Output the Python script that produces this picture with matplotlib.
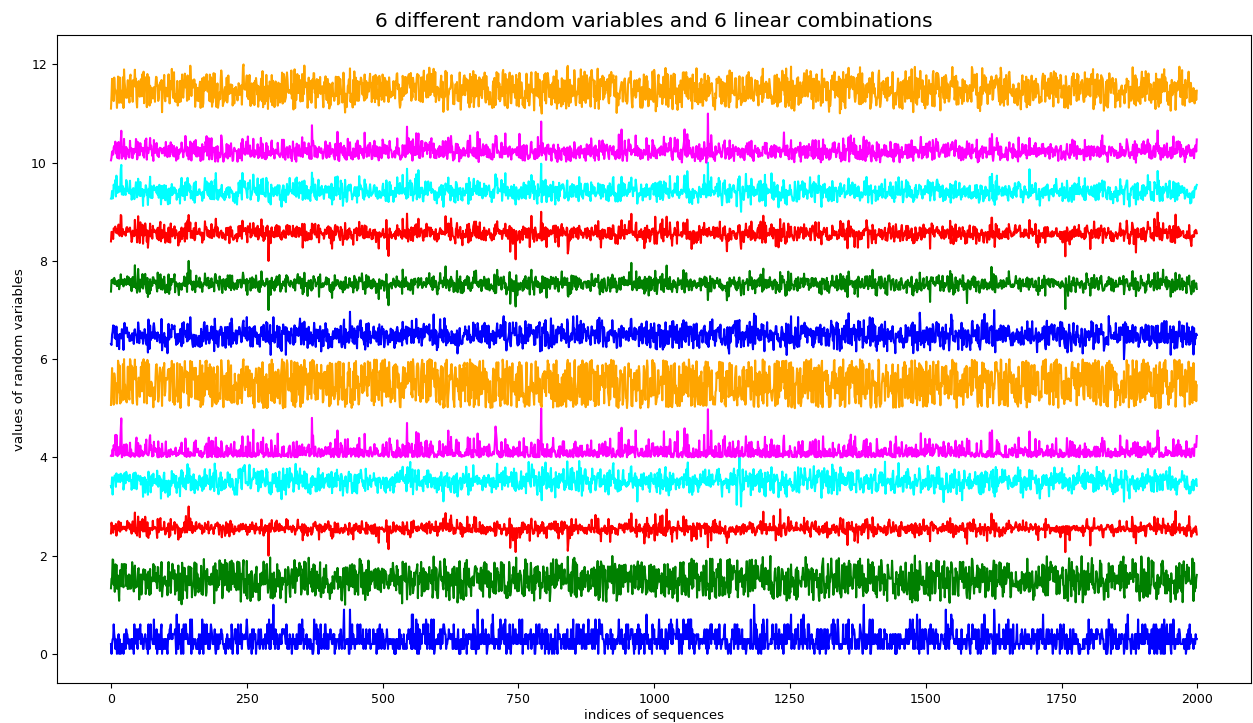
import numpy as np
import matplotlib
matplotlib.use('Agg')
import matplotlib.pyplot as plt

# 2000 samples per series; the originals are random draws, so the noise is
# regenerated with a fixed seed from the distributions
n_points = 2000
colors = ['blue', 'green', 'red', 'cyan', 'magenta', 'orange']

# base variables: poisson, beta, laplace, normal, exponential, uniform
poisson_lam = 3
beta_ab = (2.5, 2.5)

# weights of the 6 linear combinations (rows) over the 6 base variables
mix_weights = [
    [1.0, 1.0, 0.0, 1.0, 0.0, 0.0],
    [0.0, 0.3, 1.0, 0.3, 0.0, 0.0],
    [0.0, 0.0, 1.0, 0.4, 0.5, 0.0],
    [0.0, 0.0, 0.3, 1.0, 1.0, 0.0],
    [0.3, 0.0, 0.0, 0.0, 1.0, 0.3],
    [0.3, 0.5, 0.0, 0.5, 0.0, 1.0],
]

rng = np.random.default_rng(11)
base = [
    rng.poisson(poisson_lam, n_points).astype(float),
    rng.beta(beta_ab[0], beta_ab[1], n_points),
    rng.laplace(0, 1, n_points),
    rng.normal(0, 1, n_points),
    rng.exponential(1, n_points),
    rng.uniform(0, 1, n_points),
]


def normalize(v):
    # min-max scale to [0, 1]
    return (v - v.min()) / (v.max() - v.min())


base_n = [normalize(v) for v in base]
combos = [normalize(sum(w * b for w, b in zip(row, base_n))) for row in mix_weights]
series = base_n + combos

fig = plt.figure(figsize=(12.53, 7.23), dpi=100)
ax = fig.add_axes([0.04525, 0.0549, 0.9532, 0.8967])

for i, s in enumerate(series):
    ax.plot(np.arange(n_points), s + i, color=colors[i % 6], linewidth=1.5)

ax.set_title('6 different random variables and 6 linear combinations', fontsize=14.5)
ax.set_xlabel('indices of sequences', fontsize=9.6, labelpad=2)
ax.set_ylabel('values of random variables', fontsize=9.6)
ax.tick_params(labelsize=9)

fig.savefig('out.png')
